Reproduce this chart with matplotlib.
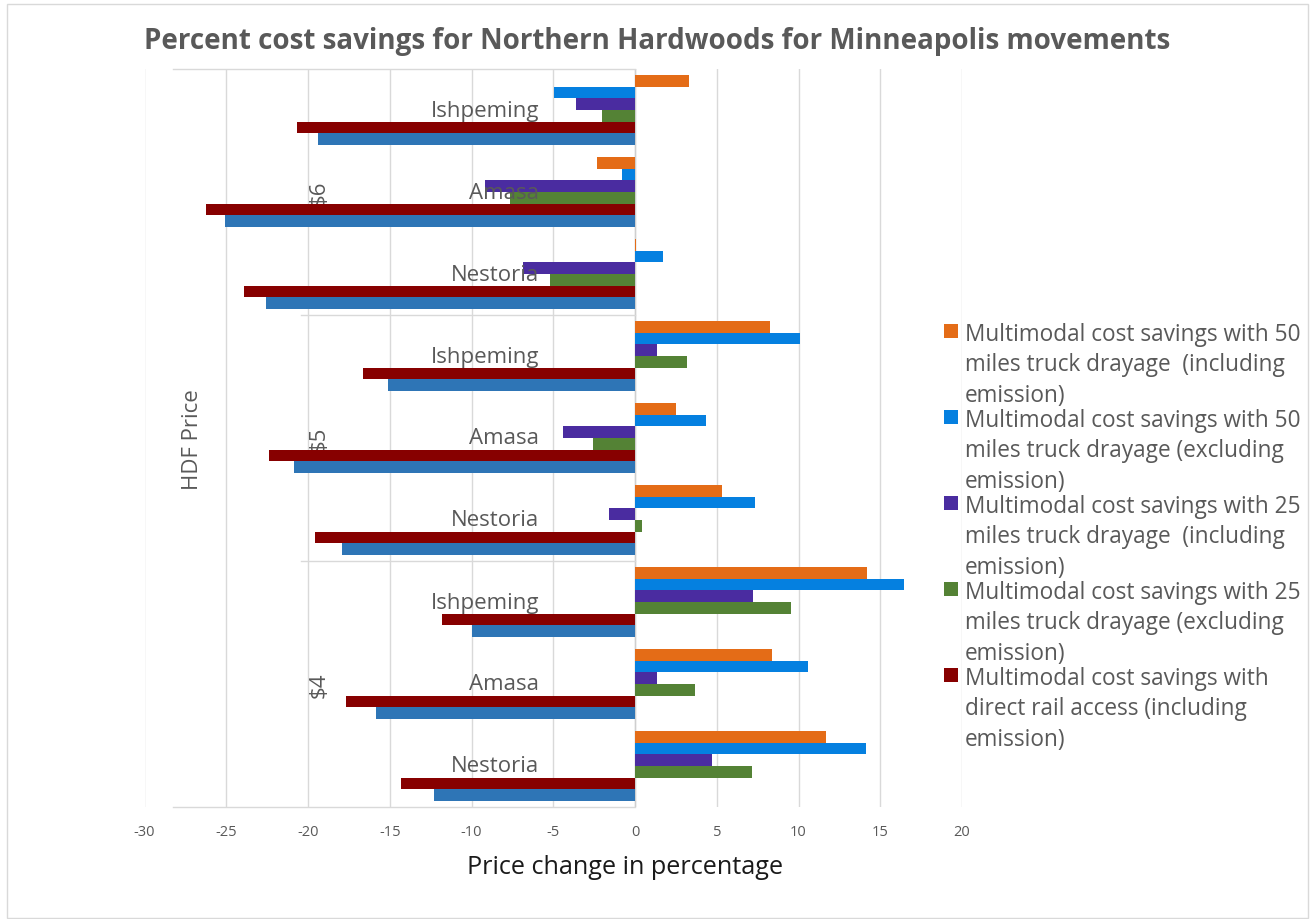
import textwrap
import numpy as np
import matplotlib
matplotlib.use("Agg")
import matplotlib.pyplot as plt
from matplotlib.patches import Rectangle

plt.rcParams['font.family'] = ['Open Sans', 'DejaVu Sans']

W, H, DPI = 1311, 920, 100

# ---- data -------------------------------------------------------------
price_groups = ["$4", "$5", "$6"]
sites = ["Nestoria", "Amasa", "Ishpeming"]

series_names = [
    "Multimodal cost savings with 50 miles truck drayage  (including emission)",
    "Multimodal cost savings with 50 miles truck drayage (excluding emission)",
    "Multimodal cost savings with 25 miles truck drayage  (including emission)",
    "Multimodal cost savings with 25 miles truck drayage (excluding emission)",
    "Multimodal cost savings with direct rail access (including emission)",
    "Multimodal cost savings with direct rail access (excluding emission)",
]
series_colors = ["#E46C17", "#0580E0", "#4A2CA0", "#548235", "#870000", "#2E75B6"]

# order: $4 Nestoria, $4 Amasa, $4 Ishpeming, $5 Nestoria, ..., $6 Ishpeming
truck50_incl = [11.70, 8.35, 14.17, 5.35, 2.53, 8.27, 0.08, -2.30, 3.33]
truck50_excl = [14.14, 10.60, 16.45, 7.34, 4.37, 10.08, 1.70, -0.77, -4.96]
truck25_incl = [4.74, 1.37, 7.24, -1.58, -4.42, 1.34, -6.88, -9.20, -3.61]
truck25_excl = [7.18, 3.68, 9.52, 0.42, -2.56, 3.18, -5.20, -7.66, -2.02]
rail_incl = [-14.33, -17.65, -11.79, -19.55, -22.38, -16.64, -23.91, -26.25, -20.66]
rail_excl = [-12.32, -15.87, -9.98, -17.93, -20.88, -15.13, -22.56, -25.05, -19.37]

series_values = [truck50_incl, truck50_excl, truck25_incl, truck25_excl,
                 rail_incl, rail_excl]
legend_entries = 5

x_ticks = list(range(-30, 25, 5))

title = "Percent cost savings for Northern Hardwoods for Minneapolis movements"
x_title = "Price change in percentage"
group_title = "HDF Price"

# ---- layout -------------------------------------------------------------
GREY = "#595959"
GRID = "#d9d9d9"


def fx(px):
    return px / W


def fy(py):
    return 1 - py / H


fig = plt.figure(figsize=(W / DPI, H / DPI), dpi=DPI)
fig.patches.append(Rectangle((fx(7), fy(919)), fx(1308) - fx(7), fy(5) - fy(919),
                             transform=fig.transFigure, fill=False,
                             edgecolor=GRID, lw=1))

ax_l, ax_r, ax_t, ax_b = 144.5, 962, 70, 808
ax = fig.add_axes([fx(ax_l), fy(ax_b), fx(ax_r) - fx(ax_l), fy(ax_t) - fy(ax_b)])

n_cat = len(price_groups) * len(sites)
y_pos = np.arange(n_cat)
bar_h = 0.85 / len(series_values)

for i, (vals, color) in enumerate(zip(series_values, series_colors)):
    offset = (len(series_values) / 2 - 0.5 - i) * bar_h
    ax.barh(y_pos + offset, vals, height=bar_h, color=color, lw=0, zorder=3)

ax.set_xlim(-30, 20)
ax.set_ylim(-0.5, n_cat - 0.5)
ax.set_xticks(x_ticks)
ax.set_xticklabels([str(t) for t in x_ticks])
ax.set_yticks([])
ax.tick_params(axis='x', length=0, pad=12.5, labelsize=10.5, labelcolor=GREY)
for s in ax.spines.values():
    s.set_visible(False)
ax.set_axisbelow(True)
ax.grid(axis='x', color=GRID, lw=1, zorder=0)

# category axis at zero with its multi-level separators
ax.axvline(0, color="#cfcfcf", lw=1, zorder=2)
outer_left, inner_left = -28.27, -20.4
for yb in (-0.5, n_cat - 0.5):
    ax.plot([outer_left, 0], [yb, yb], color=GRID, lw=1, clip_on=False, zorder=2)
for g in range(1, len(price_groups)):
    yb = g * len(sites) - 0.5
    ax.plot([inner_left, 0], [yb, yb], color=GRID, lw=1, clip_on=False, zorder=2)

for k in range(n_cat):
    ax.text(-5.85, y_pos[k], sites[k % len(sites)], ha='right', va='center',
            fontsize=16, color=GREY, zorder=4)
for g, label in enumerate(price_groups):
    ax.text(-19.35, g * len(sites) + 1, label, rotation=90, ha='center',
            va='center', fontsize=16, color=GREY, zorder=1)

fig.text(fx(192), fy(440), group_title, rotation=90, ha='center', va='center',
         fontsize=16, color=GREY)
fig.text(fx(625), fy(868), x_title, ha='center', va='center', fontsize=18.2,
         color="#1a1a1a")
fig.text(fx(657), fy(42), title, ha='center', va='center', fontsize=20,
         fontweight='bold', color=GREY)

# legend
for j in range(legend_entries):
    top = 325 + j * 86
    fig.patches.append(Rectangle((fx(944), fy(top + 14)), fx(14), 14 / H,
                                 transform=fig.transFigure,
                                 facecolor=series_colors[j], lw=0))
    for l, line in enumerate(textwrap.wrap(series_names[j], width=31,
                                           drop_whitespace=True)):
        fig.text(fx(965), fy(340.7 + j * 86 + l * 30.8), line, ha='left',
                 va='baseline', fontsize=16.3, color=GREY)

fig.savefig("out.png", dpi=DPI)
